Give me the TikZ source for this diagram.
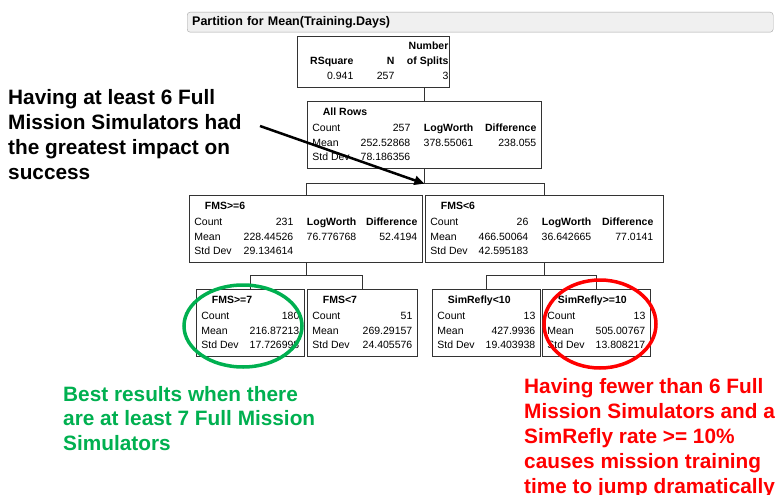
\documentclass[tikz,border=0pt]{standalone}
\usepackage{fontspec}
\setmainfont{Liberation Sans}
\usepackage{array}
\usetikzlibrary{positioning,arrows.meta,calc}
\newcolumntype{R}[1]{>{\raggedleft\arraybackslash}p{#1}}
\newcolumntype{L}[1]{>{\raggedright\arraybackslash}p{#1}}
\setlength{\tabcolsep}{0pt}
\definecolor{okgreen}{RGB}{0,176,80}
\definecolor{alertred}{RGB}{255,0,0}

\begin{document}
\begin{tikzpicture}[x=1pt,y=-1pt,
  statbox/.style={draw=black!80,fill=white,line width=0.7pt,anchor=north west,inner xsep=5pt,inner ysep=3.5pt,font=\fontsize{10.5}{14.5}\selectfont},
  tree/.style={draw=black!80,line width=0.7pt},
  note/.style={anchor=north west,align=left,inner sep=0pt,font=\fontsize{20.8}{25}\selectfont\bfseries},
  ring/.style={line width=3.5pt},
  pointer/.style={line width=2.5pt,-{Triangle[length=10pt,width=9pt]}}]

\useasboundingbox (0,0) rectangle (776,495);
\clip (0,0) rectangle (776,495);
\fill[white] (0,0) rectangle (776,495);

\node[draw=black!35,fill=black!6,rounded corners=3pt,anchor=north west,text width=576pt,minimum height=20pt,inner xsep=5pt,font=\fontsize{12.5}{15}\selectfont\bfseries] (header) at (187,12) {Partition for Mean(Training.Days)};

\node[statbox,inner xsep=1pt] (summary) at (297,36) {\begin{tabular}{@{}R{55pt}R{41pt}R{54pt}@{}}
 & & \bfseries Number\\
 \bfseries RSquare & \bfseries N & \bfseries of Splits\\
 0.941 & 257 & 3
\end{tabular}};

\node[statbox] (allrows) at (307,101) {\begin{tabular}{@{}L{45pt}R{53pt}R{63pt}R{63pt}@{}}
 \multicolumn{4}{@{\hspace{10.5pt}}l@{}}{\bfseries All Rows}\\[2pt]
 Count & 257 & \bfseries LogWorth & \bfseries Difference\\
 Mean & 252.52868 & 378.55061 & 238.055\\
 Std Dev & 78.186356 & &
\end{tabular}};

\node[statbox] (fmsge6) at (189,195) {\begin{tabular}{@{}L{45pt}R{54pt}R{63pt}R{61pt}@{}}
 \multicolumn{4}{@{\hspace{10.5pt}}l@{}}{\bfseries FMS>=6}\\[2pt]
 Count & 231 & \bfseries LogWorth & \bfseries Difference\\
 Mean & 228.44526 & 76.776768 & 52.4194\\
 Std Dev & 29.134614 & &
\end{tabular}};
\node[statbox] (fmslt6) at (425,195) {\begin{tabular}{@{}L{45pt}R{53pt}R{63pt}R{62pt}@{\hspace{5pt}}}
 \multicolumn{4}{@{\hspace{10.5pt}}l@{}}{\bfseries FMS<6}\\[2pt]
 Count & 26 & \bfseries LogWorth & \bfseries Difference\\
 Mean & 466.50064 & 36.642665 & 77.0141\\
 Std Dev & 42.595183 & &
\end{tabular}};

\node[statbox] (fmsge7) at (196,289) {\begin{tabular}{@{}L{45pt}R{53pt}@{}}
 \multicolumn{2}{@{\hspace{10.5pt}}l@{}}{\bfseries FMS>=7}\\[2pt]
 Count & 180\\
 Mean & 216.87213\\
 Std Dev & 17.726998
\end{tabular}};
\node[statbox] (fmslt7) at (307,289) {\begin{tabular}{@{}L{45pt}R{55pt}@{}}
 \multicolumn{2}{@{\hspace{10.5pt}}l@{}}{\bfseries FMS<7}\\[2pt]
 Count & 51\\
 Mean & 269.29157\\
 Std Dev & 24.405576
\end{tabular}};
\node[statbox] (simlt10) at (432,289) {\begin{tabular}{@{}L{45pt}R{53pt}@{}}
 \multicolumn{2}{@{\hspace{10.5pt}}l@{}}{\bfseries SimRefly<10}\\[2pt]
 Count & 13\\
 Mean & 427.9936\\
 Std Dev & 19.403938
\end{tabular}};
\node[statbox] (simge10) at (542,289) {\begin{tabular}{@{}L{45pt}R{53pt}@{}}
 \multicolumn{2}{@{\hspace{10.5pt}}l@{}}{\bfseries SimRefly>=10}\\[2pt]
 Count & 13\\
 Mean & 505.00767\\
 Std Dev & 13.808217
\end{tabular}};

\draw[tree] (summary.south -| allrows.north) -- (allrows.north);
\draw[tree] (allrows.south) -- ++(0,15) coordinate (split1);
\draw[tree] (fmsge6.north) |- (split1) -| (fmslt6.north);
\draw[tree] (fmsge6.south) -- ++(0,13) coordinate (split2);
\draw[tree] (fmsge7.north) |- (split2) -| (fmslt7.north);
\draw[tree] (fmslt6.south) -- ++(0,13) coordinate (split3);
\draw[tree] (simlt10.north) |- (split3) -| (simge10.north);

\draw[ring,okgreen] (243,326) ellipse [x radius=59pt,y radius=41pt];
\draw[ring,alertred] (600,324) ellipse [x radius=56pt,y radius=44pt];

\node[note] (impact) at (8,89) {Having at least 6 Full\\Mission Simulators had\\the greatest impact on\\success};
\node[note,okgreen,font=\fontsize{20.8}{24.5}\selectfont\bfseries] (best) at (63,386) {Best results when there\\are at least 7 Full Mission\\Simulators};
\node[note,alertred] (fewer) at (524,378) {Having fewer than 6 Full\\Mission Simulators and a\\SimRefly rate >= 10\%\\causes mission training\\time to jump dramatically};

\coordinate (arrowtail) at (260,126);
\draw[pointer] (arrowtail) -- (split1);
\end{tikzpicture}
\end{document}
